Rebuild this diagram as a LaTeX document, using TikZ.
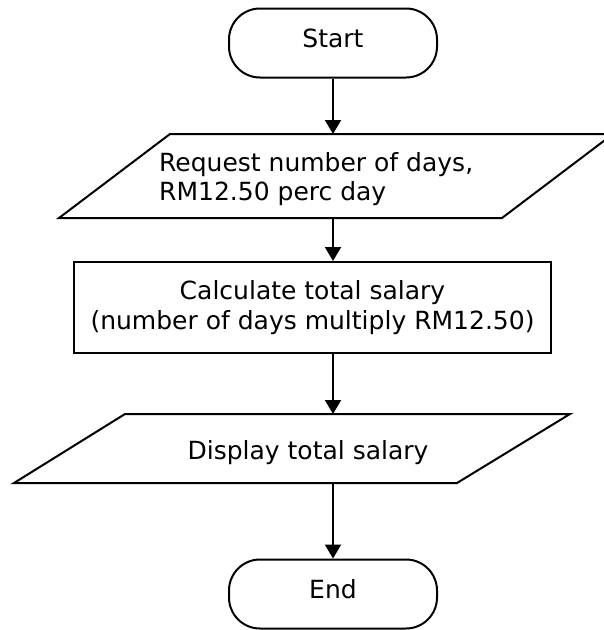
\documentclass[tikz,border=0pt]{standalone}
\usepackage{fontspec}
\setmainfont{DejaVu Sans}
\usetikzlibrary{arrows.meta}
\usetikzlibrary{shapes.misc}

\tikzset{
  terminal/.style={draw, rectangle, rounded corners=31pt, line width=2pt, minimum width=208pt, minimum height=69pt, text height=19pt, text depth=11pt, inner sep=0pt},
  process/.style={draw, rectangle, line width=2pt, minimum width=477pt, minimum height=91pt, align=center, inner sep=0pt},
  iobox/.style={draw, line width=2pt, line join=miter},
  flow/.style={line width=2pt, -{Triangle[length=14pt,width=16pt]}}
}

\begin{document}
\begin{tikzpicture}[x=1pt,y=-1pt,font=\fontsize{25}{29.5}\selectfont]
  \useasboundingbox (0,0) rectangle (604,630);
  \node[terminal] (start) at (333,43) {Start};
  % input box
  \draw[iobox] (59,218) -- (170,134) -- (613,134) -- (502,218) -- cycle;
  \coordinate (reqtop) at (333,134);
  \coordinate (reqbot) at (333,218);
  \node[anchor=north west, inner sep=0pt, align=left] (req) at (159,152) {Request number of days,\\RM12.50 perc day};
  % process
  \node[process] (calc) at (312.5,307.5) {Calculate total salary\\(number of days multiply RM12.50)};
  % output box
  \draw[iobox] (14,483) -- (125,414) -- (570,414) -- (457,483) -- cycle;
  \coordinate (distop) at (333,414);
  \coordinate (disbot) at (333,483);
  \node[anchor=base, inner sep=0pt] (dis) at (308,459) {Display total salary};
  \node[terminal] (end) at (333,594) {End};
  % arrows
  \draw[flow] (start) -- (reqtop);
  \draw[flow] (reqbot) -- (reqbot |- calc.north);
  \draw[flow] (reqbot |- calc.south) -- (distop);
  \draw[flow] (disbot) -- (end);
\end{tikzpicture}
\end{document}
